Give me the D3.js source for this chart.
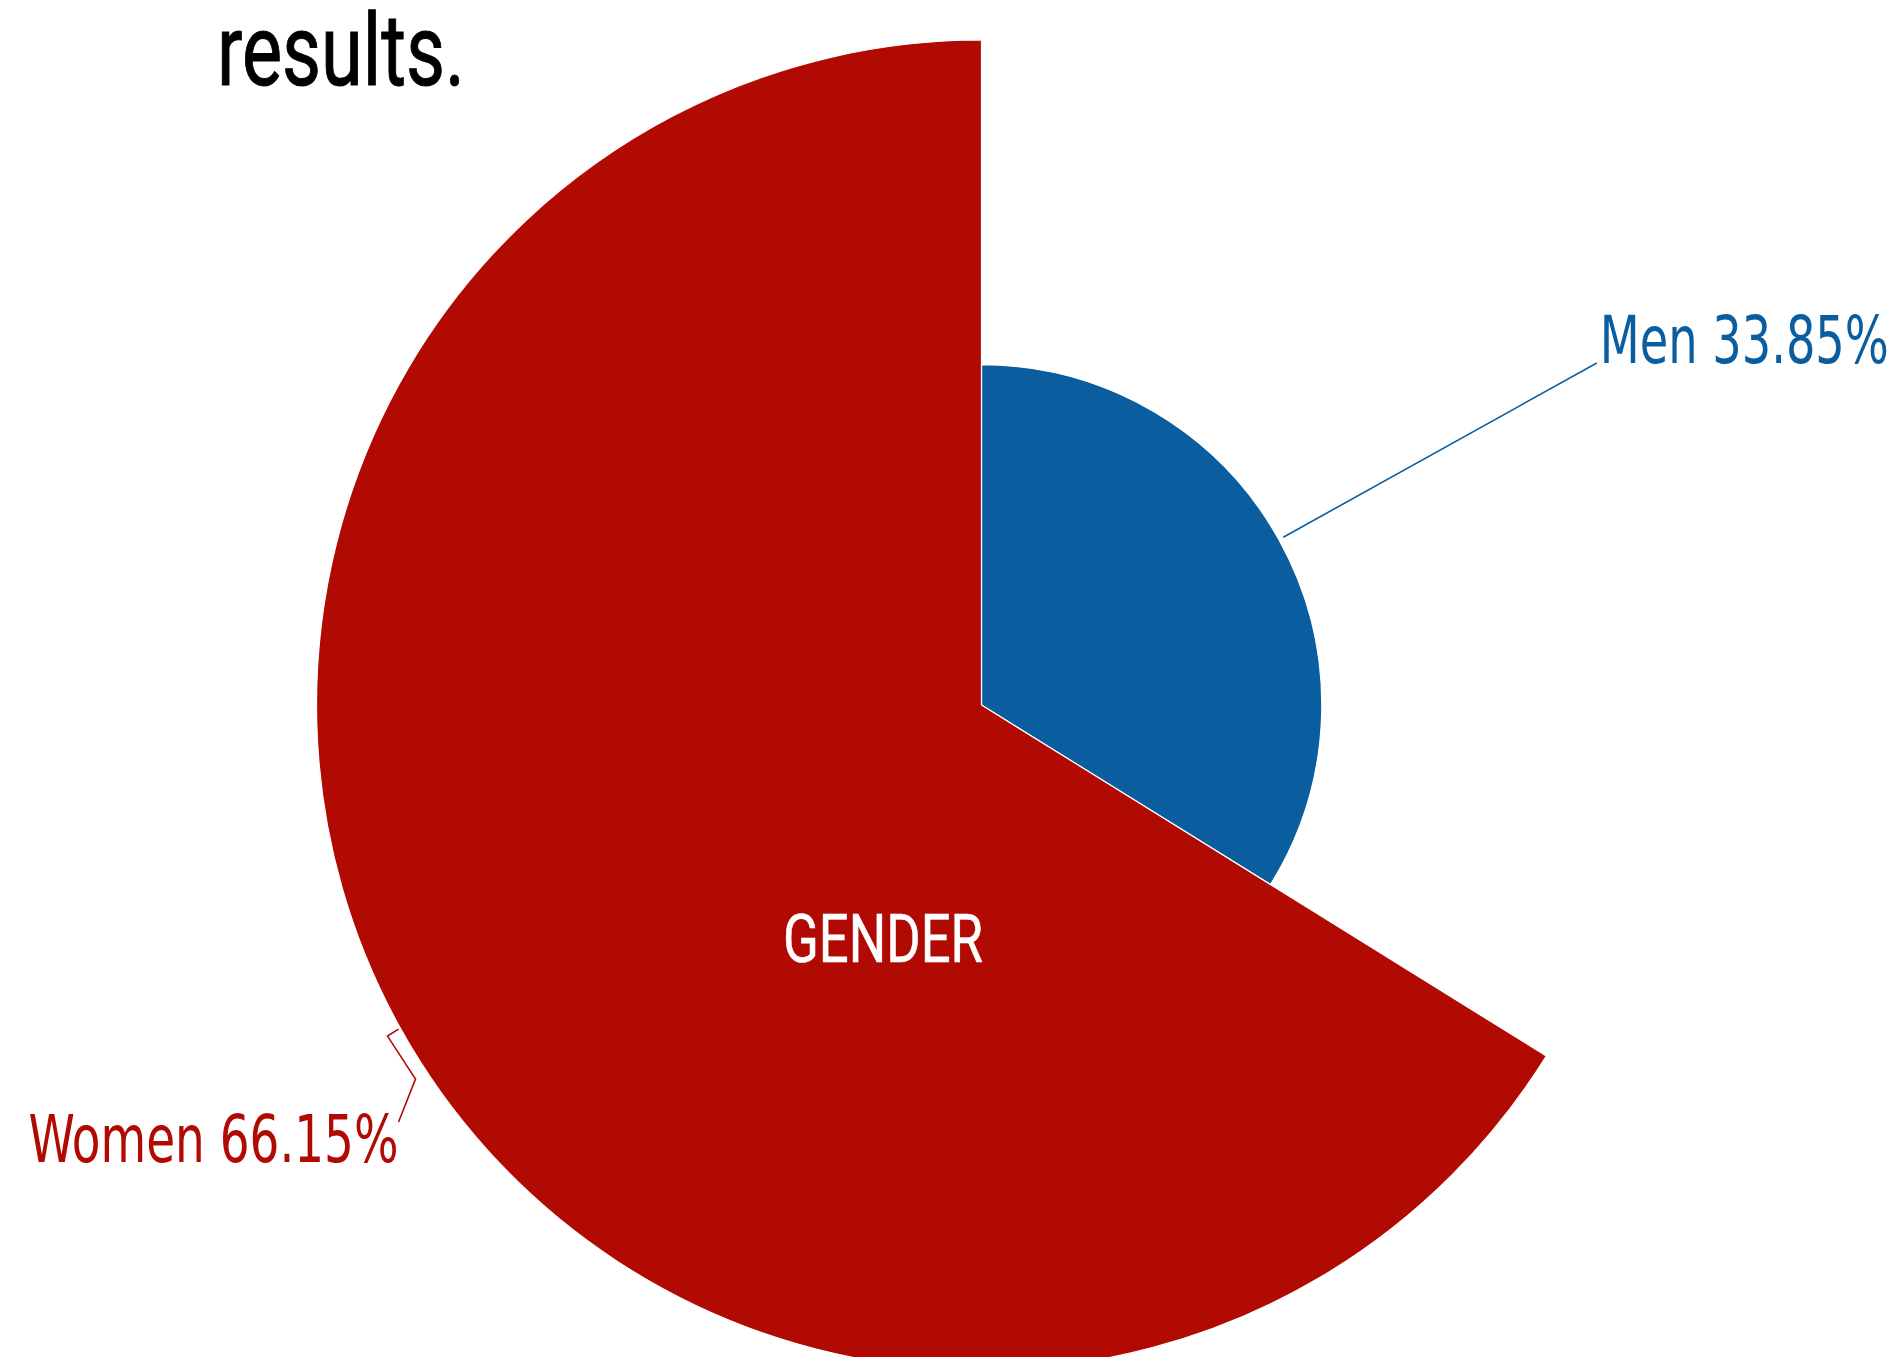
<!DOCTYPE html>
<html>
<head>
<meta charset="utf-8">
<script src="https://cdn.jsdelivr.net/npm/d3@7/dist/d3.min.js"></script>
<style>
  html, body { margin: 0; padding: 0; background: #fff; }
  svg { display: block; }
</style>
</head>
<body>
<svg id="chart" width="1900" height="1357"></svg>
<script>
// ---- data ----
const categories = ["Men", "Women"];
const values = [33.85, 66.15];
const labels = ["Men 33.85%", "Women 66.15%"];
const titleText = "results.";
const centerText = "GENDER";

// ---- styles ----
const colors = ["#0a5e9f", "#b00a03"];
const W = 1900, H = 1357;
const cx = 981.5, cy = 705;

const svg = d3.select("#chart");

// title
svg.append("text")
  .attr("x", 217).attr("y", 85)
  .attr("font-family", "Roboto, 'Liberation Sans', sans-serif")
  .attr("font-size", 100)
  .attr("fill", "#000")
  .attr("stroke", "#000")
  .attr("stroke-width", 1)
  .attr("textLength", 248)
  .attr("lengthAdjust", "spacingAndGlyphs")
  .text(titleText);

const data = categories.map((c, i) => ({ name: c, value: values[i], label: labels[i], color: colors[i] }));

// radius proportional to value
const rScale = d3.scaleLinear().domain([0, d3.max(values)]).range([0, 665]);

const pie = d3.pie().value(d => d.value).sort(null);
const arcs = pie(data);

const g = svg.append("g").attr("transform", `translate(${cx},${cy})`);

g.selectAll("path.slice")
  .data(arcs)
  .join("path")
  .attr("class", "slice")
  .attr("d", d => d3.arc().innerRadius(0).outerRadius(rScale(d.data.value))(d))
  .attr("fill", d => d.data.color)
  .attr("stroke", "#fff")
  .attr("stroke-width", 1.2);

// helper: point at angle a (clockwise from top) and radius r
const pt = (a, r) => [r * Math.sin(a), -r * Math.cos(a)];

const labelFont = "'Liberation Sans Narrow', 'DejaVu Sans Condensed', 'Noto Sans', sans-serif";

// Men label: radial leader line
{
  const d = arcs[0];
  const mid = (d.startAngle + d.endAngle) / 2;
  const r = rScale(d.data.value);
  const p0 = pt(mid, r + 5);
  const p1 = pt(mid, 704);
  g.append("path")
    .attr("d", d3.line()([p0, p1]))
    .attr("fill", "none")
    .attr("stroke", d.data.color)
    .attr("stroke-width", 1.6);
  g.append("text")
    .attr("x", p1[0] + 3).attr("y", p1[1])
    .attr("font-family", labelFont)
    .attr("font-size", 65)
    .attr("fill", d.data.color)
    .attr("textLength", 289)
    .attr("lengthAdjust", "spacingAndGlyphs")
    .text(d.data.label);
}

// Women label: zigzag leader line
{
  const d = arcs[1];
  const mid = (d.startAngle + d.endAngle) / 2;
  const r = rScale(d.data.value);
  const p0 = pt(mid, r + 2);
  const pts = [p0, [p0[0] - 11, p0[1] + 7], [p0[0] + 17, p0[1] + 50], [p0[0], p0[1] + 93]];
  g.append("path")
    .attr("d", d3.line()(pts))
    .attr("fill", "none")
    .attr("stroke", d.data.color)
    .attr("stroke-width", 1.6);
  const end = pts[pts.length - 1];
  g.append("text")
    .attr("x", end[0]).attr("y", end[1] + 40)
    .attr("text-anchor", "end")
    .attr("font-family", labelFont)
    .attr("font-size", 66)
    .attr("fill", d.data.color)
    .attr("textLength", 370)
    .attr("lengthAdjust", "spacingAndGlyphs")
    .text(d.data.label);
}

// center label
svg.append("text")
  .attr("x", 783).attr("y", 962)
  .attr("font-family", "Roboto, 'Liberation Sans', sans-serif")
  .attr("font-size", 66)
  .attr("fill", "#fff")
  .attr("stroke", "#fff")
  .attr("stroke-width", 0.6)
  .attr("textLength", 200)
  .attr("lengthAdjust", "spacingAndGlyphs")
  .text(centerText);
</script>
</body>
</html>
